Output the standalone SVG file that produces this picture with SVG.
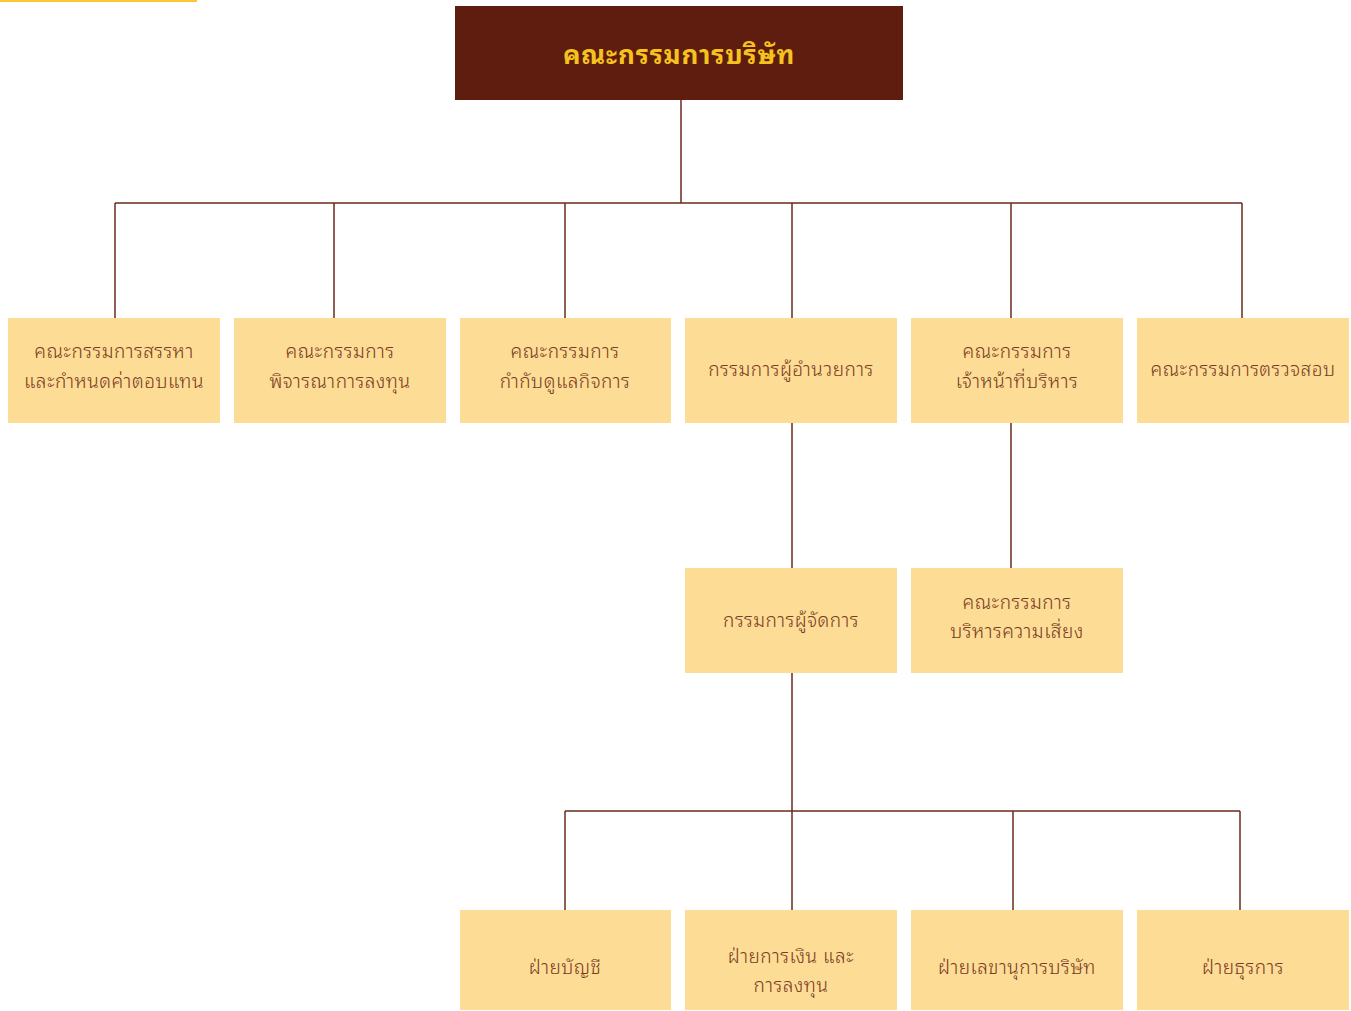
<svg xmlns="http://www.w3.org/2000/svg" width="1351" height="1011" viewBox="0 0 1351 1011">
<style>
.box{fill:#fddc96}
.t{font-family:"Noto Sans Thai Looped","Loma","Garuda","Noto Sans Thai","Noto Sans","DejaVu Sans",sans-serif;font-size:19px;font-weight:300;letter-spacing:0.5px;fill:#7a3b22;text-anchor:middle;dominant-baseline:central}
.title{font-family:"Noto Sans Thai Looped","Loma","Garuda","Noto Sans Thai","Noto Sans","DejaVu Sans",sans-serif;font-size:26px;letter-spacing:0.9px;font-weight:bold;fill:#f6c21f;text-anchor:middle;dominant-baseline:central}
.c{stroke:#6b2a1e;stroke-width:1.5;fill:none}
</style>
<rect x="0" y="0" width="197" height="2" fill="#fdc52f"/>
<g id="connectors">
<path class="c" d="M681 100V203M115 203H1242M115 203V318M334 203V318M565 203V318M792 203V318M1011 203V318M1242 203V318"/>
<path class="c" d="M792 423V568M1011 423V568"/>
<path class="c" d="M792 673V910M565 811H1240M565 811V910M1013 811V910M1240 811V910"/>
</g>
<g id="board"><rect x="455" y="6" width="448" height="94" fill="#5e1d0f"/><text class="title" x="679" y="52">คณะกรรมการบริษัท</text></g>
<g id="n1"><rect class="box" x="8" y="318" width="212" height="105"/><text class="t" x="114" y="349">คณะกรรมการสรรหา</text><text class="t" x="114" y="379">และกำหนดค่าตอบแทน</text></g>
<g id="n2"><rect class="box" x="234" y="318" width="212" height="105"/><text class="t" x="340" y="349">คณะกรรมการ</text><text class="t" x="340" y="379">พิจารณาการลงทุน</text></g>
<g id="n3"><rect class="box" x="460" y="318" width="211" height="105"/><text class="t" x="565" y="349">คณะกรรมการ</text><text class="t" x="565" y="379">กำกับดูแลกิจการ</text></g>
<g id="n4"><rect class="box" x="685" y="318" width="212" height="105"/><text class="t" x="791" y="367">กรรมการผู้อำนวยการ</text></g>
<g id="n5"><rect class="box" x="911" y="318" width="212" height="105"/><text class="t" x="1017" y="349">คณะกรรมการ</text><text class="t" x="1017" y="379">เจ้าหน้าที่บริหาร</text></g>
<g id="n6"><rect class="box" x="1137" y="318" width="212" height="105"/><text class="t" x="1243" y="367">คณะกรรมการตรวจสอบ</text></g>
<g id="n7"><rect class="box" x="685" y="568" width="212" height="105"/><text class="t" x="791" y="618">กรรมการผู้จัดการ</text></g>
<g id="n8"><rect class="box" x="911" y="568" width="212" height="105"/><text class="t" x="1017" y="600">คณะกรรมการ</text><text class="t" x="1017" y="629">บริหารความเสี่ยง</text></g>
<g id="n9"><rect class="box" x="460" y="910" width="211" height="100"/><text class="t" x="565" y="965">ฝ่ายบัญชี</text></g>
<g id="n10"><rect class="box" x="685" y="910" width="212" height="100"/><text class="t" x="791" y="954">ฝ่ายการเงิน และ</text><text class="t" x="791" y="983">การลงทุน</text></g>
<g id="n11"><rect class="box" x="911" y="910" width="212" height="100"/><text class="t" x="1017" y="965">ฝ่ายเลขานุการบริษัท</text></g>
<g id="n12"><rect class="box" x="1137" y="910" width="212" height="100"/><text class="t" x="1243" y="965">ฝ่ายธุรการ</text></g>
</svg>
